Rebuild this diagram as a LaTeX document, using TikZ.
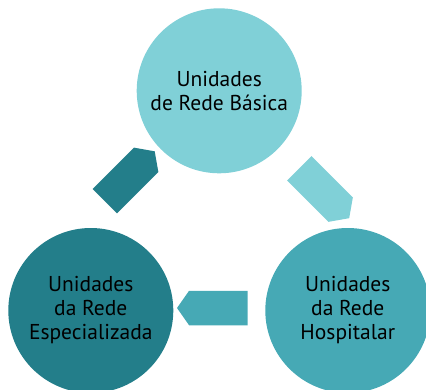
\documentclass[tikz,border=0pt]{standalone}
\usepackage{fontspec}
\setmainfont{PT Sans}
\usepackage{xcolor}
\usetikzlibrary{shapes,arrows,positioning}
\definecolor{redeclara}{RGB}{128,208,215}
\definecolor{redemedia}{RGB}{70,169,181}
\definecolor{redeescura}{RGB}{35,126,138}

\begin{document}
\begin{tikzpicture}[x=1pt,y=1pt,
    unidade/.style={circle, minimum size=165pt, inner sep=0pt, align=center,
        text=black, font=\fontsize{21.5}{24}\selectfont},
    seta/.style={single arrow, single arrow head extend=0pt, single arrow tip angle=110,
        minimum width=34.5pt, minimum height=70.5pt, inner sep=0pt}]
    \useasboundingbox (0,0) rectangle (426,389);
    \clip (0,0) rectangle (426,389);
    % as tres unidades
    \node[unidade, fill=redeclara] (basica) at (219.2,298.2) {Unidades\\de Rede Básica};
    \node[unidade, fill=redemedia] (hospitalar) at (347.8,78.5) {Unidades\\da Rede\\Hospitalar};
    \node[unidade, fill=redeescura] (especializada) at (90.8,78.5) {Unidades\\da Rede\\Especializada};
    % setas do ciclo
    \node[seta, fill=redeclara, rotate=-45] (basica-hosp) at (320,200) {};
    \node[seta, fill=redemedia, rotate=180] (hosp-esp) at (218.3,81) {};
    \node[seta, fill=redeescura, rotate=45] (esp-basica) at (125.5,208.5) {};
\end{tikzpicture}
\end{document}
